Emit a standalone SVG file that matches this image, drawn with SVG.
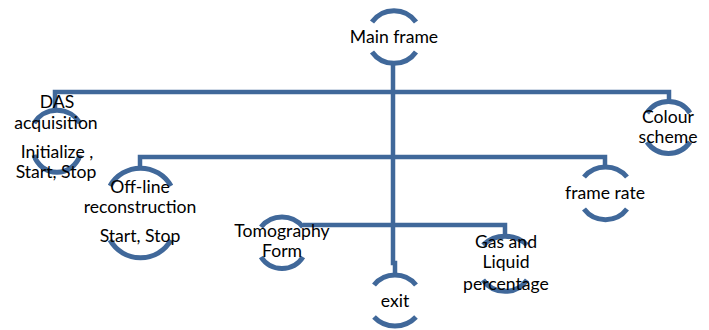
<svg xmlns="http://www.w3.org/2000/svg" width="709" height="330" viewBox="0 0 709 330">
<style>
.arc{fill:none;stroke:#40689a;stroke-width:5}
.ln{fill:none;stroke:#40689a;stroke-width:4.5}
text{font-family:Lato,"Liberation Sans",sans-serif;font-size:17.6px;fill:#000;text-anchor:middle}
</style>
<rect width="709" height="330" fill="#fff"/>
<g id="connectors">
<path class="ln" d="M393,62 V263 H395 V275"/>
<path class="ln" d="M55,110 V92 H669 V102"/>
<path class="ln" d="M140,168 V157 H605 V167"/>
<path class="ln" d="M303,225 H505 V237"/>
</g>
<g id="main-frame">
<path class="arc" d="M372,22 A27,27 0 0 1 416,22"/>
<path class="arc" d="M372,52 A27,27 0 0 0 416,52"/>
<text x="394" y="43">Main frame</text>
</g>
<g id="das">
<path class="arc" d="M34,123 A27,27 0 0 1 80,123"/>
<path class="arc" d="M34,155 A24,24 0 0 0 80,155"/>
<text x="57" y="108">DAS</text>
<text x="56" y="129">acquisition</text>
<text x="57" y="158">Initialize ,</text>
<text x="56" y="178">Start, Stop</text>
</g>
<g id="offline">
<path class="arc" d="M110,186 A35,35 0 0 1 171,186"/>
<path class="arc" d="M110,240 A35,35 0 0 0 171,240"/>
<text x="140" y="193">Off-line</text>
<text x="140" y="213">reconstruction</text>
<text x="140" y="242">Start, Stop</text>
</g>
<g id="tomography">
<path class="arc" d="M261,227 A27,27 0 0 1 303,227"/>
<path class="arc" d="M261,257 A25,25 0 0 0 303,257"/>
<text x="282" y="237">Tomography</text>
<text x="282" y="257">Form</text>
</g>
<g id="exit">
<path class="arc" d="M374,285 A27,27 0 0 1 416,285"/>
<path class="arc" d="M374,317 A29,29 0 0 0 416,317"/>
<text x="395" y="307">exit</text>
</g>
<g id="gas-liquid">
<path class="arc" d="M483,245 A32,32 0 0 1 527,245"/>
<path class="arc" d="M483,280 A27,27 0 0 0 527,280"/>
<text x="506" y="248">Gas and</text>
<text x="506" y="268">Liquid</text>
<text x="506" y="290">percentage</text>
</g>
<g id="colour-scheme">
<path class="arc" d="M647,113 A26,26 0 0 1 690,113"/>
<path class="arc" d="M647,142 A26,26 0 0 0 690,142"/>
<text x="668" y="123">Colour</text>
<text x="668" y="143">scheme</text>
</g>
<g id="frame-rate">
<path class="arc" d="M584,177 A28,28 0 0 1 627,177"/>
<path class="arc" d="M584,209 A27,27 0 0 0 627,209"/>
<text x="605" y="199">frame rate</text>
</g>
</svg>
